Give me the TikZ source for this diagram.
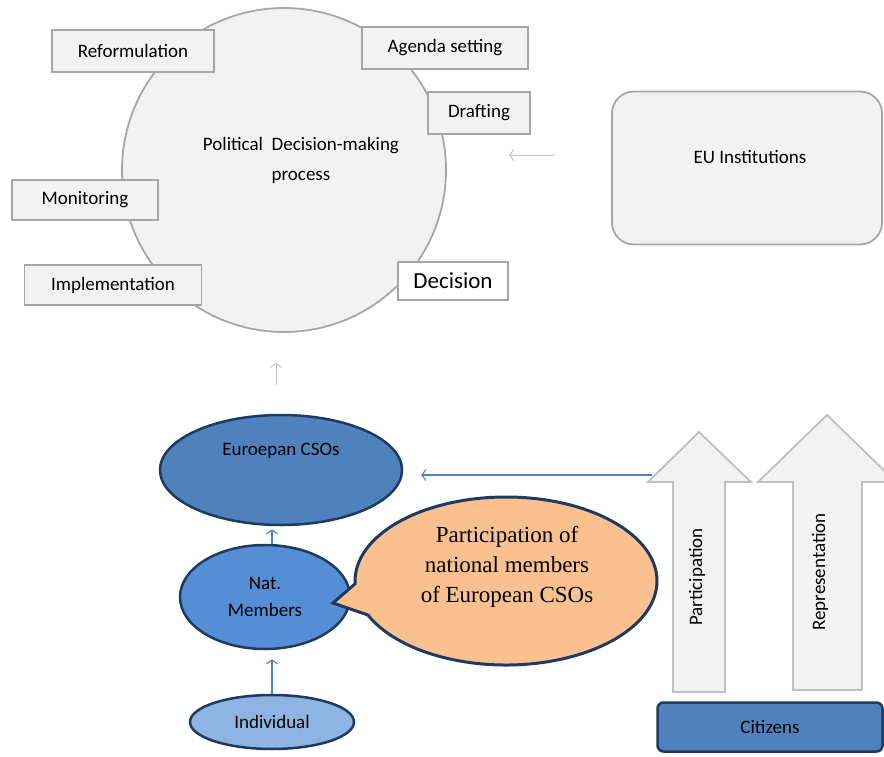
\documentclass[tikz,border=0pt]{standalone}
\usepackage{fontspec}
\setmainfont{Carlito}
\newfontfamily\bubblefont{Liberation Serif}
\usetikzlibrary{shapes.geometric,shapes.callouts,arrows.meta,calc}

\definecolor{boxgray}{HTML}{F2F2F2}
\definecolor{linegray}{HTML}{A6A6A6}
\definecolor{arrowgray}{HTML}{BFBFBF}
\definecolor{navy}{HTML}{1F3A60}
\definecolor{csoblue}{HTML}{4F81BD}
\definecolor{natblue}{HTML}{558ED5}
\definecolor{indblue}{HTML}{8EB4E3}
\definecolor{peach}{HTML}{FAC090}

\tikzset{
  stage/.style={draw=linegray, fill=boxgray, line width=1.8pt, minimum height=42pt,
    inner sep=0pt, font=\fontsize{19}{22}\selectfont},
  blob/.style={ellipse, draw=navy, line width=2.5pt, inner sep=0pt,
    font=\fontsize{19}{27}\selectfont, align=center},
  grayarrow/.style={draw=arrowgray, line width=0.9pt, -{Straight Barb[length=4pt,width=11pt]}},
  bluearrow/.style={draw=csoblue, line width=1.1pt, -{Straight Barb[length=4pt,width=11pt]}},
  blockarrow/.style={draw=arrowgray, fill=boxgray, line width=1.8pt, line join=miter}
}

\begin{document}
\begin{tikzpicture}[x=1pt,y=-1pt]

    \useasboundingbox (0,0) rectangle (884,757);

    % The decision-making cycle
    \node[circle, draw=linegray, fill=boxgray, line width=1.8pt, minimum size=324pt] (pdm) at (284,170) {};
    \node[align=center, font=\fontsize{19}{30}\selectfont] (pdmtext) at (301,160) {Political\ \ Decision-making\\process};

    % Stages round the circle
    \node[stage, minimum width=162pt] (reform) at (133,51) {Reformulation};
    \node[stage, minimum width=166pt] (agenda) at (445,48) {Agenda setting};
    \node[stage, minimum width=102pt] (draft) at (479,113) {Drafting};
    \node[stage, minimum width=146pt, minimum height=40pt] (monit) at (85,200) {Monitoring};
    \node[stage, minimum width=177pt, minimum height=40pt] (impl) at (113,285) {Implementation};
    \node[stage, fill=white, minimum width=110pt, minimum height=38pt,
      font=\fontsize{23}{25}\selectfont] (decis) at (453,281) {Decision};

    % EU institutions
    \node[draw=linegray, fill=boxgray, line width=1.8pt, rounded corners=22pt,
      minimum width=270pt, minimum height=153pt] (eu) at (747,168) {};
    \node[font=\fontsize{19}{22}\selectfont] (eutext) at (750,157) {EU Institutions};
    \draw[grayarrow] ($(eu.west)+(-57,-13)$) -- ($(eu.west)+(-102,-13)$);

    % CSOs and their members
    \node[blob, fill=csoblue, minimum width=242pt, minimum height=110pt] (cso) at (281,470) {};
    \node[font=\fontsize{19}{22}\selectfont] (csotext) at (281,451) {Euroepan CSOs};
    \node[blob, fill=natblue, minimum width=170pt, minimum height=104pt] (nat) at (265,597) {Nat.\\Members};
    \node[blob, fill=indblue, minimum width=164pt, minimum height=54pt] (ind) at (272,722) {Individual};

    \draw[grayarrow] ([xshift=-5pt,yshift=29pt]cso.north) -- ([xshift=-5pt,yshift=-30pt]cso.north |- pdm.south);
    \draw[bluearrow] ([xshift=7pt]nat.north) -- ([xshift=7pt,yshift=-3pt]nat.north |- cso.south);
    \draw[bluearrow] (ind.north) -- ([yshift=-9pt]ind.north |- nat.south);

    % Speech bubble
    \coordinate (tip) at (333,603);
    \node[ellipse callout, draw=navy, fill=peach, line width=3pt, minimum width=302pt,
      minimum height=168pt, callout absolute pointer={(tip)}, callout pointer arc=22] (bubble) at (506,581) {};
    \node[align=center, font=\bubblefont\fontsize{23}{30}\selectfont] (bubbletext) at (507,567)
      {Participation of\\national members\\of European CSOs};

    % Citizens and the two block arrows
    \node[draw=navy, fill=csoblue, line width=2.5pt, rounded corners=6pt, minimum width=225pt,
      minimum height=49pt, font=\fontsize{19}{22}\selectfont] (citiz) at (770,727) {Citizens};

    \draw[blockarrow] (673,692) -- (673,482) -- (648,482) -- (699,432) -- (751,482) -- (725,482) -- (725,692) -- cycle;
    \draw[blockarrow] (793,690) -- (793,482) -- (758,482) -- (827,415) -- (896,482) -- (862,482) -- (862,690) -- cycle;
    \node[rotate=90, font=\fontsize{19}{22}\selectfont] (parttext) at (697,577) {Participation};
    \node[rotate=90, font=\fontsize{19}{22}\selectfont] (reprtext) at (820,572) {Representation};

    \coordinate (headleft) at (652,475);
    \draw[bluearrow] (headleft) -- ($(cso.east)+(18,5)$);

\end{tikzpicture}
\end{document}
